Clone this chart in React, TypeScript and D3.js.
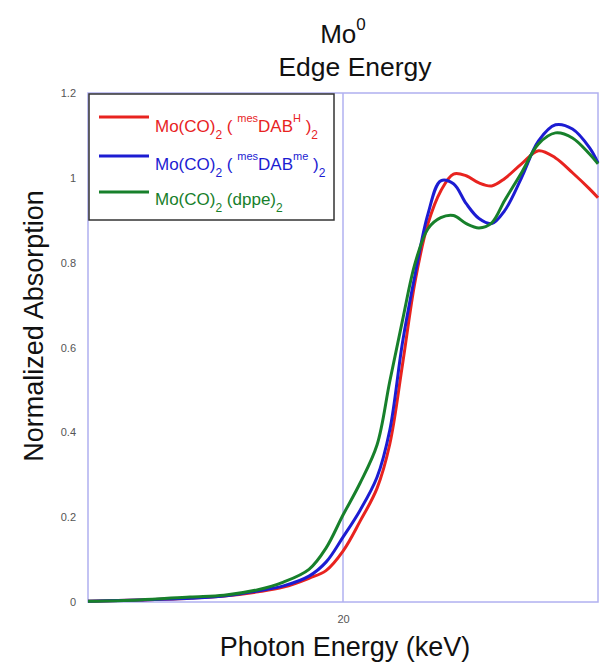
import React, { useEffect, useRef } from "react";
import * as d3 from "d3";

const width = 600;
const height = 663;
const margin = { top: 93, right: 2, bottom: 61, left: 88 };

// photon energy in eV (axis label is in keV)
const energies = [
  19970, 19976, 19982, 19986, 19990, 19993, 19996, 19998, 20000, 20002, 20004,
  20005.5, 20007, 20008.5, 20010, 20011.5, 20013, 20014.5, 20016, 20017.5,
  20019, 20021, 20023, 20025, 20027, 20029, 20030
];

const dabH = [
  0.002, 0.005, 0.009, 0.014, 0.024, 0.035, 0.056, 0.074, 0.12, 0.19, 0.268,
  0.372, 0.56, 0.758, 0.892, 0.969, 1.009, 1.005, 0.988, 0.981, 0.998, 1.033,
  1.064, 1.047, 1.012, 0.974, 0.953
];

const dabMe = [
  0.002, 0.005, 0.009, 0.014, 0.026, 0.038, 0.061, 0.094, 0.153, 0.216, 0.294,
  0.405, 0.612, 0.774, 0.915, 0.993, 0.986, 0.939, 0.904, 0.892, 0.922, 1.0,
  1.087, 1.125, 1.115, 1.071, 1.035
];

const dppe = [
  0.002, 0.005, 0.012, 0.016, 0.029, 0.047, 0.077, 0.127, 0.205, 0.28, 0.37,
  0.52, 0.664, 0.8, 0.88, 0.906, 0.911, 0.892, 0.882, 0.894, 0.946, 1.012,
  1.08, 1.106, 1.094, 1.056, 1.033
];

const yTicks = [0, 0.2, 0.4, 0.6, 0.8, 1, 1.2];
const xTicks = [20000];

const series = [
  { name: "dabH", values: dabH, color: "#e8231f" },
  { name: "dabMe", values: dabMe, color: "#1c1cd2" },
  { name: "dppe", values: dppe, color: "#17802b" }
];

const font = "Arial, 'Liberation Sans', sans-serif";
const frameColor = "#b0b0f0";

const xScale = d3
  .scaleLinear()
  .domain([19970, 20030])
  .range([margin.left, width - margin.right]);
const yScale = d3
  .scaleLinear()
  .domain([0, 1.2])
  .range([height - margin.bottom, margin.top]);

const lineGen = d3
  .line<[number, number]>()
  .x(d => xScale(d[0]))
  .y(d => yScale(d[1]))
  .curve(d3.curveCatmullRom.alpha(0.5));

export default function App() {
  const xAxisRef = useRef<SVGGElement>(null);
  const yAxisRef = useRef<SVGGElement>(null);

  useEffect(() => {
    const xAxis = d3
      .axisBottom(xScale)
      .tickValues(xTicks)
      .tickSize(0)
      .tickPadding(13)
      .tickFormat(d => `${+d / 1000}`);
    const yAxis = d3
      .axisLeft(yScale)
      .tickValues(yTicks)
      .tickSize(0)
      .tickPadding(12)
      .tickFormat(d => `${d}`);

    const gx = d3.select(xAxisRef.current).call(xAxis);
    const gy = d3.select(yAxisRef.current).call(yAxis);
    [gx, gy].forEach(g => {
      g.select(".domain").remove();
      g.selectAll("text")
        .attr("font-family", font)
        .attr("font-size", 11)
        .attr("fill", "#555");
    });
  }, []);

  const plotW = width - margin.left - margin.right;
  const plotH = height - margin.top - margin.bottom;

  return (
    <svg
      width={width}
      height={height}
      style={{ position: "absolute", left: 0, top: 0, background: "#fff" }}
    >
      {/* title */}
      <text x={343} y={43} textAnchor="middle" fontFamily={font} fontSize={26} fill="#111">
        Mo<tspan dy={-13} fontSize={17}>0</tspan>
      </text>
      <text x={355} y={76} textAnchor="middle" fontFamily={font} fontSize={26.5} fill="#111">
        Edge Energy
      </text>

      {/* plot frame */}
      <rect
        x={margin.left}
        y={margin.top}
        width={plotW}
        height={plotH}
        fill="none"
        stroke={frameColor}
        strokeWidth={1.5}
      />
      <line
        x1={xScale(20000)}
        x2={xScale(20000)}
        y1={margin.top}
        y2={height - margin.bottom}
        stroke={frameColor}
        strokeWidth={1.5}
      />

      {series.map(s => (
        <path
          key={s.name}
          d={lineGen(energies.map((e, i) => [e, s.values[i]] as [number, number])) || ""}
          fill="none"
          stroke={s.color}
          strokeWidth={3}
          strokeLinejoin="round"
        />
      ))}

      <g ref={xAxisRef} transform={`translate(0, ${height - margin.bottom})`} />
      <g ref={yAxisRef} transform={`translate(${margin.left}, 0)`} />

      {/* legend */}
      <rect x={89} y={94} width={245} height={126} fill="#fff" stroke="#333" strokeWidth={1.5} />
      <line x1={99} x2={149} y1={117} y2={117} stroke={series[0].color} strokeWidth={3} />
      <text x={155} y={132} fontFamily={font} fontSize={17} fill={series[0].color}>
        Mo(CO)<tspan dy={7} fontSize={12}>2</tspan>
        <tspan dy={-7}> ( </tspan>
        <tspan dy={-10} fontSize={11}>mes</tspan>
        <tspan dy={10}>DAB</tspan>
        <tspan dy={-10} fontSize={11}>H</tspan>
        <tspan dy={10}> )</tspan>
        <tspan dy={7} fontSize={12}>2</tspan>
      </text>
      <line x1={99} x2={149} y1={156} y2={156} stroke={series[1].color} strokeWidth={3} />
      <text x={155} y={170} fontFamily={font} fontSize={17} fill={series[1].color}>
        Mo(CO)<tspan dy={7} fontSize={12}>2</tspan>
        <tspan dy={-7}> ( </tspan>
        <tspan dy={-10} fontSize={11}>mes</tspan>
        <tspan dy={10}>DAB</tspan>
        <tspan dy={-10} fontSize={11}>me</tspan>
        <tspan dy={10}> )</tspan>
        <tspan dy={7} fontSize={12}>2</tspan>
      </text>
      <line x1={99} x2={149} y1={192} y2={192} stroke={series[2].color} strokeWidth={3} />
      <text x={155} y={205} fontFamily={font} fontSize={17} fill={series[2].color}>
        Mo(CO)<tspan dy={7} fontSize={12}>2</tspan>
        <tspan dy={-7}> (dppe)</tspan>
        <tspan dy={7} fontSize={12}>2</tspan>
      </text>

      {/* axis titles */}
      <text x={345} y={656} textAnchor="middle" fontFamily={font} fontSize={27} fill="#111">
        Photon Energy (keV)
      </text>
      <text
        transform="translate(43, 326) rotate(-90)"
        textAnchor="middle"
        fontFamily={font}
        fontSize={27}
        fill="#111"
      >
        Normalized Absorption
      </text>
    </svg>
  );
}
